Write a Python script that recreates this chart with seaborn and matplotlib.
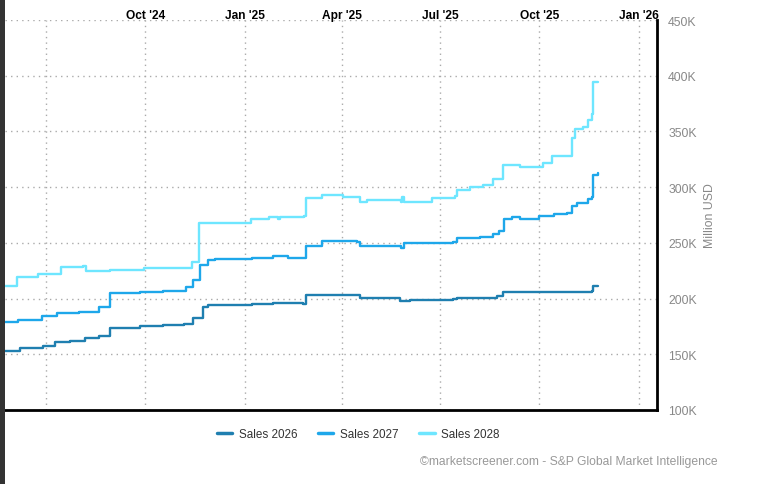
import matplotlib
matplotlib.use("Agg")
import matplotlib.pyplot as plt
import matplotlib.dates as mdates
from matplotlib.ticker import FuncFormatter, MultipleLocator
from matplotlib.patches import Rectangle
import pandas as pd
import seaborn as sns

# consensus sales estimates (million USD, in thousands), step series
dates_2026 = ["2024-05-24", "2024-06-07", "2024-06-28", "2024-07-09", "2024-07-23",
              "2024-08-06", "2024-08-19", "2024-08-29", "2024-09-26", "2024-10-17",
              "2024-11-06", "2024-11-14", "2024-11-23", "2024-11-28", "2025-01-08",
              "2025-01-27", "2025-02-24", "2025-02-27", "2025-04-18", "2025-05-25",
              "2025-06-03", "2025-07-13", "2025-07-17", "2025-08-23", "2025-08-28",
              "2025-10-13", "2025-11-19", "2025-11-20", "2025-11-24"]
sales_2026 = [153, 156, 157.7, 161, 162, 164.6, 166.7, 174, 175, 176,
              177, 183, 192, 194, 195, 196, 195, 203, 200.5, 197.5,
              199, 199.6, 200.5, 202.6, 205.6, 205.8, 207, 211.5, 211.5]

dates_2027 = ["2024-05-24", "2024-06-05", "2024-06-27", "2024-07-11", "2024-08-01",
              "2024-08-19", "2024-08-29", "2024-09-26", "2024-10-17", "2024-11-08",
              "2024-11-14", "2024-11-21", "2024-11-28", "2024-12-05", "2025-01-08",
              "2025-01-27", "2025-02-10", "2025-02-27", "2025-03-14", "2025-04-15",
              "2025-04-18", "2025-05-26", "2025-05-29", "2025-07-13", "2025-07-17",
              "2025-08-07", "2025-08-19", "2025-08-25", "2025-08-29", "2025-09-06",
              "2025-09-13", "2025-10-01", "2025-10-15", "2025-10-27", "2025-10-31",
              "2025-11-05", "2025-11-15", "2025-11-19", "2025-11-20", "2025-11-24"]
sales_2027 = [178.7, 181, 184, 187, 187.7, 192, 204.7, 206, 207, 210,
              216.7, 230, 234.6, 235.5, 236.7, 238, 236.7, 247.5, 251.7, 250.5,
              247.5, 245.4, 249.6, 251, 254, 255.5, 258, 261, 271.4, 273,
              271.4, 274, 276, 277, 283.4, 286, 289, 291, 311, 313]

dates_2028 = ["2024-05-24", "2024-06-04", "2024-06-24", "2024-07-15", "2024-08-04",
              "2024-08-07", "2024-08-29", "2024-09-30", "2024-11-13", "2024-11-20",
              "2025-01-07", "2025-01-24", "2025-02-01", "2025-02-03", "2025-02-25",
              "2025-02-27", "2025-03-14", "2025-04-02", "2025-04-18", "2025-04-24",
              "2025-05-26", "2025-05-27", "2025-05-29", "2025-06-24", "2025-07-15",
              "2025-07-17", "2025-07-29", "2025-08-10", "2025-08-19", "2025-08-28",
              "2025-09-13", "2025-10-04", "2025-10-13", "2025-10-31", "2025-11-03",
              "2025-11-10", "2025-11-15", "2025-11-19", "2025-11-20", "2025-11-24"]
sales_2028 = [211, 219, 222, 228, 229.5, 225, 226, 227, 233, 267.5,
              271, 273.5, 271, 273.5, 274, 290, 293, 291, 287, 288.5,
              286.4, 291.5, 286.4, 290, 292, 297.7, 300, 302, 307, 320,
              318, 322, 328, 344, 352, 354, 360, 366, 394, 394]

series = {
    "Sales 2026": (dates_2026, sales_2026, "#1f7fb0"),
    "Sales 2027": (dates_2027, sales_2027, "#1ea7ea"),
    "Sales 2028": (dates_2028, sales_2028, "#6ee6ff"),
}

frames = []
for name, (d, v, c) in series.items():
    frames.append(pd.DataFrame({"date": pd.to_datetime(d), "value": v, "series": name}))
df = pd.concat(frames, ignore_index=True)
palette = {k: v[2] for k, v in series.items()}

sns.set_style("white")
plt.rcParams["font.family"] = ["Liberation Sans", "DejaVu Sans"]

fig = plt.figure(figsize=(7.6, 4.85), dpi=100)
ax = fig.add_axes([5 / 760, 74 / 485, 652 / 760, 390 / 485])

sns.lineplot(data=df, x="date", y="value", hue="series", palette=palette,
             drawstyle="steps-post", linewidth=1.7, ax=ax, legend=False)

ax.set_xlim(pd.Timestamp("2024-05-24"), pd.Timestamp("2026-01-18"))
ax.set_ylim(100, 450)


def month_label(x, pos):
    s = mdates.num2date(x).strftime("%b '%y")
    # Jul '24 label is not shown in the reference
    return "" if s == "Jul '24" else s


ax.xaxis.set_major_locator(mdates.MonthLocator(bymonth=[1, 4, 7, 10]))
ax.xaxis.set_major_formatter(FuncFormatter(month_label))
ax.xaxis.tick_top()
ax.tick_params(axis="x", length=0, pad=-1, labelsize=8.6, labelcolor="black")

ax.yaxis.set_major_locator(MultipleLocator(50))
ax.yaxis.set_major_formatter(FuncFormatter(lambda y, p: f"{int(y)}K"))
ax.yaxis.tick_right()
ax.yaxis.set_label_position("right")
ax.tick_params(axis="y", length=0, pad=8, labelsize=8.8, labelcolor="#888888")
ax.set_ylabel("Million USD", color="#888888", fontsize=8.8, labelpad=5)
ax.set_xlabel("")

ax.grid(True, linestyle=(0, (1, 3)), color="#aaaaaa", linewidth=1)
for s in ["top", "left"]:
    ax.spines[s].set_visible(False)
for s in ["bottom", "right"]:
    ax.spines[s].set_color("black")
    ax.spines[s].set_linewidth(2)

for lbl in ax.get_xticklabels():
    lbl.set_fontweight("bold")

handles = [plt.Line2D([], [], color=c, linewidth=2.5) for (_, _, c) in series.values()]
fig.legend(handles, list(series.keys()), loc="center", bbox_to_anchor=(358 / 760, 1 - 435 / 485),
           ncol=3, frameon=False, fontsize=8.4, handlelength=1.35, handletextpad=0.55,
           columnspacing=1.75, labelcolor="#333333")

fig.text(718 / 760, 1 - 462 / 485, "\u00a9marketscreener.com - S&P Global Market Intelligence",
         ha="right", va="center", color="#999999", fontsize=8.7)

fig.patches.append(Rectangle((0, 0), 5 / 760, 1, transform=fig.transFigure,
                             facecolor="#333333", edgecolor="none", zorder=10))

fig.savefig("out.png", dpi=100)
